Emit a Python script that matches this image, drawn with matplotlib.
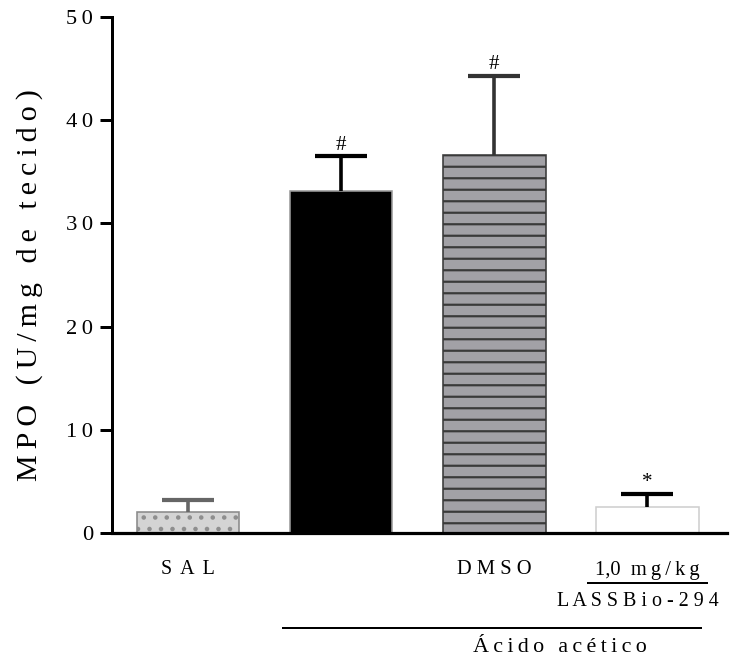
import matplotlib
matplotlib.use("Agg")
import matplotlib.pyplot as plt
import matplotlib.transforms as mtransforms

DPI = 138
def pt(px):
    return px * 72.0 / DPI

plt.rcParams['font.family'] = ['Liberation Serif', 'DejaVu Serif']
plt.rcParams['hatch.linewidth'] = pt(2.2)

categories = ["SAL", "Ácido acético", "DMSO", "1,0 mg/kg"]
means = [2.0, 33.1, 36.6, 2.5]
errors = [1.2, 3.4, 7.7, 1.3]
significance = ["", "#", "#", "*"]
yticks = [0, 10, 20, 30, 40, 50]

fills = ["#d4d4d4", "#000000", "#a2a1a6", "#ffffff"]
edges = ["#8a8a8a", "#9a9a9a", "#3a3a3a", "#cfcfcf"]
hatches = ["..", None, "--", None]
hatch_colors = ["#8e8e8e", None, "#3a3a3a", None]
err_colors = ["#666666", "#000000", "#333333", "#000000"]

def spaced(s, sp="\u2009"):
    return sp.join(list(s))

fig = plt.figure(figsize=(736 / DPI, 670 / DPI), dpi=DPI)
ax = fig.add_axes([112/736, 1-533/670, (727-112)/736, (533-17)/670])

x = list(range(len(means)))
W = 0.67
CAP = 0.17
for i in x:
    b = ax.bar(i, means[i], width=W, color=fills[i], edgecolor=edges[i],
               linewidth=pt(1.6), zorder=2)
    if hatches[i]:
        b[0].set_hatch(hatches[i])
        b[0]._hatch_color = matplotlib.colors.to_rgba(hatch_colors[i])
    top = means[i] + errors[i]
    ax.plot([i, i], [means[i], top], color=err_colors[i], lw=pt(3.6),
            solid_capstyle='butt', zorder=3, clip_on=False)
    ax.plot([i - CAP, i + CAP], [top, top], color=err_colors[i], lw=pt(4.2),
            solid_capstyle='butt', zorder=3, clip_on=False)
    if significance[i]:
        ax.text(i, top + 0.15, significance[i], ha='center',
                va='bottom', fontsize=pt(21))

ax.set_xlim(-0.497, 3.52)
ax.set_ylim(0, 50)
ax.set_yticks(yticks)
ax.set_yticklabels([spaced(str(t), "\u2009") for t in yticks], fontsize=pt(22.5))
ax.set_xticks([])
for s in ['top', 'right']:
    ax.spines[s].set_visible(False)
ax.spines['left'].set_linewidth(pt(3))
ax.spines['bottom'].set_linewidth(pt(3.2))
ax.tick_params(axis='y', direction='out', length=pt(12), width=pt(3), pad=pt(7))

fig.text(30/736, 1 - 285/670, spaced("MPO (U/mg de tecido)", "\u2009"),
         rotation=90, ha='center', va='center', fontsize=pt(30))

trans = mtransforms.blended_transform_factory(ax.transData, fig.transFigure)
def fy(p):
    return 1 - p / 670

dose_num, dose_unit = categories[3].split(" ")
ax.text(0, fy(569), spaced(categories[0], "\u2009\u2009"), transform=trans,
        ha='center', va='center', fontsize=pt(20))
ax.text(2, fy(570), spaced(categories[2], " "), transform=trans,
        ha='center', va='center', fontsize=pt(20.5))
ax.text(3, fy(570), dose_num + "  " + spaced(dose_unit, "\u2009"), transform=trans,
        ha='center', va='center', fontsize=pt(20.5))
ax.plot([2.615, 3.39], [fy(583), fy(583)], transform=trans, color='black',
        lw=pt(2), clip_on=False)
ax.text(2.94, fy(601), spaced("LASSBio-294", " "), transform=trans,
        ha='center', va='center', fontsize=pt(20))
ax.plot([0.62, 3.35], [fy(628), fy(628)], transform=trans, color='black',
        lw=pt(2), clip_on=False)
ax.text(2.43, fy(648), spaced(categories[1], "\u2009"), transform=trans,
        ha='center', va='center', fontsize=pt(22))

fig.savefig("out.png", dpi=DPI)
